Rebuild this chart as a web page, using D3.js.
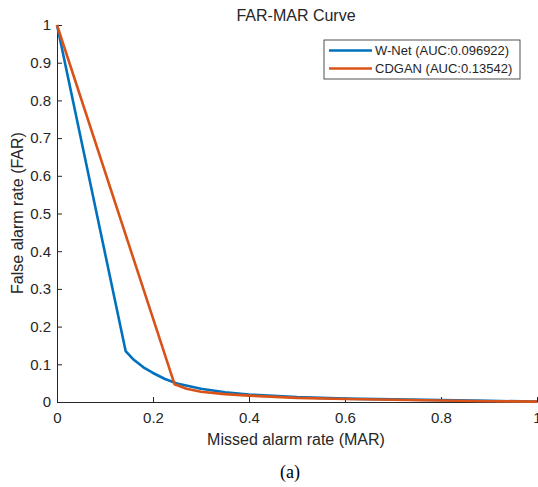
<!DOCTYPE html>
<html>
<head>
<meta charset="utf-8">
<script src="https://cdn.jsdelivr.net/npm/d3@7"></script>
<style>
  body { margin: 0; background: #fff; }
  svg text { font-family: Arial, "Liberation Sans", sans-serif; fill: #262626; }
  .axis path, .axis line { stroke: #262626; }
  .axis text { font-size: 15px; font-family: Arial, "Liberation Sans", sans-serif; }
</style>
</head>
<body>
<div id="chart"></div>
<script>
// FAR-MAR curves, values
const wnetMAR = [0, 0.143, 0.16, 0.18, 0.2, 0.225, 0.25, 0.3, 0.35, 0.4, 0.5, 0.6, 0.7, 0.8, 0.9, 1];
const wnetFAR = [1, 0.135, 0.112, 0.092, 0.077, 0.061, 0.049, 0.035, 0.026, 0.020, 0.013, 0.009, 0.007, 0.005, 0.003, 0.001];
const cdganMAR = [0, 0.245, 0.27, 0.3, 0.35, 0.4, 0.5, 0.6, 0.7, 0.8, 0.9, 1];
const cdganFAR = [1, 0.047, 0.035, 0.027, 0.021, 0.017, 0.011, 0.008, 0.006, 0.004, 0.002, 0.001];
const xTicks = [0, 0.2, 0.4, 0.6, 0.8, 1];
const yTicks = [0, 0.1, 0.2, 0.3, 0.4, 0.5, 0.6, 0.7, 0.8, 0.9, 1];
const seriesNames = ["W-Net (AUC:0.096922)", "CDGAN (AUC:0.13542)"];
const seriesColors = ["#0072BD", "#D95319"];

const width = 538, height = 487;
const margin = { top: 25, right: 1, bottom: 85, left: 57 };
const plot_width = width - margin.left - margin.right;
const plot_height = height - margin.top - margin.bottom;

const canvas = d3.select("#chart").append("svg")
  .attr("width", width).attr("height", height);

const plot = canvas.append("g")
  .attr("transform", `translate(${margin.left},${margin.top})`);

const xScale = d3.scaleLinear().domain([0, 1]).range([0, plot_width]);
const yScale = d3.scaleLinear().domain([0, 1]).range([plot_height, 0]);

const fmt = d => d === 0 || d === 1 ? d3.format("d")(d) : d3.format(".1f")(d);

// AXES - ticks pointing inward
plot.append("g")
  .attr("class", "axis")
  .attr("transform", `translate(0,${plot_height})`)
  .call(d3.axisBottom(xScale).tickValues(xTicks).tickFormat(fmt).tickSizeInner(-5).tickSizeOuter(0).tickPadding(10));

plot.append("g")
  .attr("class", "axis")
  .call(d3.axisLeft(yScale).tickValues(yTicks).tickFormat(fmt).tickSizeInner(-5).tickSizeOuter(0).tickPadding(6));

// LINES
const lineGen = d3.line()
  .x(d => xScale(d[0]))
  .y(d => yScale(d[1]));

const series = [
  d3.zip(wnetMAR, wnetFAR),
  d3.zip(cdganMAR, cdganFAR)
];

series.forEach((s, i) => {
  plot.append("path")
    .datum(s)
    .attr("d", lineGen)
    .style("fill", "none")
    .style("stroke", seriesColors[i])
    .style("stroke-width", 2.6)
    .style("stroke-linejoin", "round");
});

// TITLE + LABELS
canvas.append("text")
  .attr("x", 296).attr("y", 21)
  .attr("text-anchor", "middle")
  .style("font-size", "16px")
  .text("FAR-MAR Curve");

canvas.append("text")
  .attr("x", 296).attr("y", 445)
  .attr("text-anchor", "middle")
  .style("font-size", "16px")
  .text("Missed alarm rate (MAR)");

canvas.append("text")
  .attr("transform", "rotate(-90)")
  .attr("x", -213).attr("y", 23)
  .attr("text-anchor", "middle")
  .style("font-size", "16px")
  .text("False alarm rate (FAR)");

canvas.append("text")
  .attr("x", 290).attr("y", 478)
  .attr("text-anchor", "middle")
  .style("font-family", "'Liberation Serif', 'Times New Roman', serif")
  .style("font-size", "18px")
  .style("fill", "#000")
  .text("(a)");

// LEGEND
const legendG = canvas.append("g").attr("transform", "translate(324,40)");
legendG.append("rect")
  .attr("width", 196).attr("height", 39)
  .style("fill", "#fff")
  .style("stroke", "#262626")
  .style("stroke-width", 0.8);

seriesNames.forEach((name, i) => {
  const row = legendG.append("g").attr("transform", `translate(0,${10.5 + i * 18})`);
  row.append("line")
    .attr("x1", 5).attr("x2", 48)
    .attr("y1", 0).attr("y2", 0)
    .style("stroke", seriesColors[i])
    .style("stroke-width", 2.6);
  row.append("text")
    .attr("x", 51).attr("y", 4.8)
    .style("font-size", "13px")
    .text(name);
});
</script>
</body>
</html>
